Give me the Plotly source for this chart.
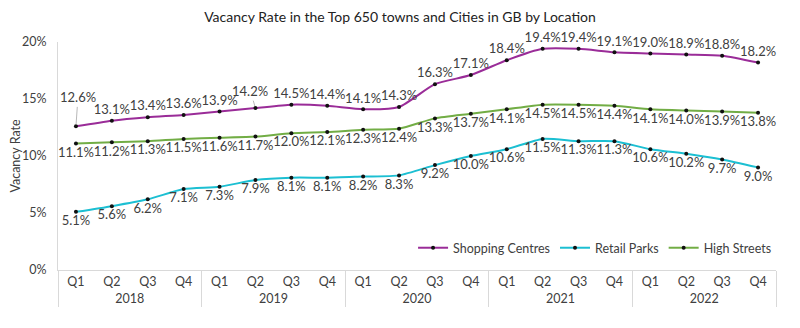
import plotly.graph_objects as go

years = ["2018"] * 4 + ["2019"] * 4 + ["2020"] * 4 + ["2021"] * 4 + ["2022"] * 4
quarters = ["Q1", "Q2", "Q3", "Q4"] * 5

shopping_centres = [12.6, 13.1, 13.4, 13.6, 13.9, 14.2, 14.5, 14.4, 14.1, 14.3,
                    16.3, 17.1, 18.4, 19.4, 19.4, 19.1, 19.0, 18.9, 18.8, 18.2]
retail_parks = [5.1, 5.6, 6.2, 7.1, 7.3, 7.9, 8.1, 8.1, 8.2, 8.3,
                9.2, 10.0, 10.6, 11.5, 11.3, 11.3, 10.6, 10.2, 9.7, 9.0]
high_streets = [11.1, 11.2, 11.3, 11.5, 11.6, 11.7, 12.0, 12.1, 12.3, 12.4,
                13.3, 13.7, 14.1, 14.5, 14.5, 14.4, 14.1, 14.0, 13.9, 13.8]

y_ticks = [0, 5, 10, 15, 20]
y_tick_labels = ["0%", "5%", "10%", "15%", "20%"]

# labels of Shopping Centres drawn with a leader line: index -> (dx, dy) offset in px
leader_labels = {0: (2, -29), 5: (-5, -17)}

series = [
    ("Shopping Centres", shopping_centres, "#9A2C98", "top center"),
    ("Retail Parks", retail_parks, "#1CBFD2", "bottom center"),
    ("High Streets", high_streets, "#72AD45", "bottom center"),
]

FONT = "Lato, 'Open Sans', sans-serif"
TXT = "#404040"

fig = go.Figure()
for name, vals, col, pos in series:
    labels = [f"{v:.1f}%" for v in vals]
    if name == "Shopping Centres":
        labels = ["" if i in leader_labels else t for i, t in enumerate(labels)]
    fig.add_trace(go.Scatter(
        x=[years, quarters], y=vals, name=name,
        mode="lines+markers+text",
        line=dict(color=col, width=2, shape="spline", smoothing=0.6),
        marker=dict(color="#111111", size=4),
        text=labels,
        textposition=pos,
        textfont=dict(family=FONT, size=13, color=TXT),
        cliponaxis=False,
    ))

for i, (dx, dy) in leader_labels.items():
    fig.add_annotation(
        x=i, y=shopping_centres[i], xref="x", yref="y",
        text=f"{shopping_centres[i]:.1f}%", showarrow=True,
        ax=dx, ay=dy, arrowhead=0, arrowwidth=0.8, arrowcolor="#A6A6A6",
        standoff=2, font=dict(family=FONT, size=13, color=TXT),
    )

fig.update_layout(
    width=784, height=312,
    margin=dict(l=50, r=16, t=34, b=50),
    paper_bgcolor="white", plot_bgcolor="white",
    font=dict(family=FONT, size=12, color=TXT),
    title=dict(text="Vacancy Rate in the Top 650 towns and Cities in GB by Location",
               x=0.5, xanchor="center", y=0.972, yanchor="middle",
               font=dict(family=FONT, size=14, color="#222222")),
    legend=dict(orientation="h", x=0.748, xanchor="center", y=0.096, yanchor="middle",
                font=dict(family=FONT, size=12.5, color=TXT), bgcolor="rgba(0,0,0,0)",
                itemwidth=30, tracegroupgap=0),
    showlegend=True,
)
fig.update_yaxes(
    range=[0, 20], tickvals=y_ticks, ticktext=y_tick_labels, automargin=False,
    showgrid=False, zeroline=False, showline=True, linecolor="#D9D9D9", linewidth=1,
    title=dict(text="Vacancy Rate", font=dict(family=FONT, size=12.5, color=TXT), standoff=14),
    tickfont=dict(family=FONT, size=12.5, color=TXT), ticklabelstandoff=8,
)
fig.update_xaxes(
    range=[-0.5, len(quarters) - 0.5],
    showgrid=False, showline=True, linecolor="#D9D9D9", linewidth=1, automargin=False,
    showdividers=True, dividercolor="#D9D9D9", dividerwidth=1,
    tickfont=dict(family=FONT, size=12.5, color=TXT), ticks="",
)

fig.write_html("out.html")
